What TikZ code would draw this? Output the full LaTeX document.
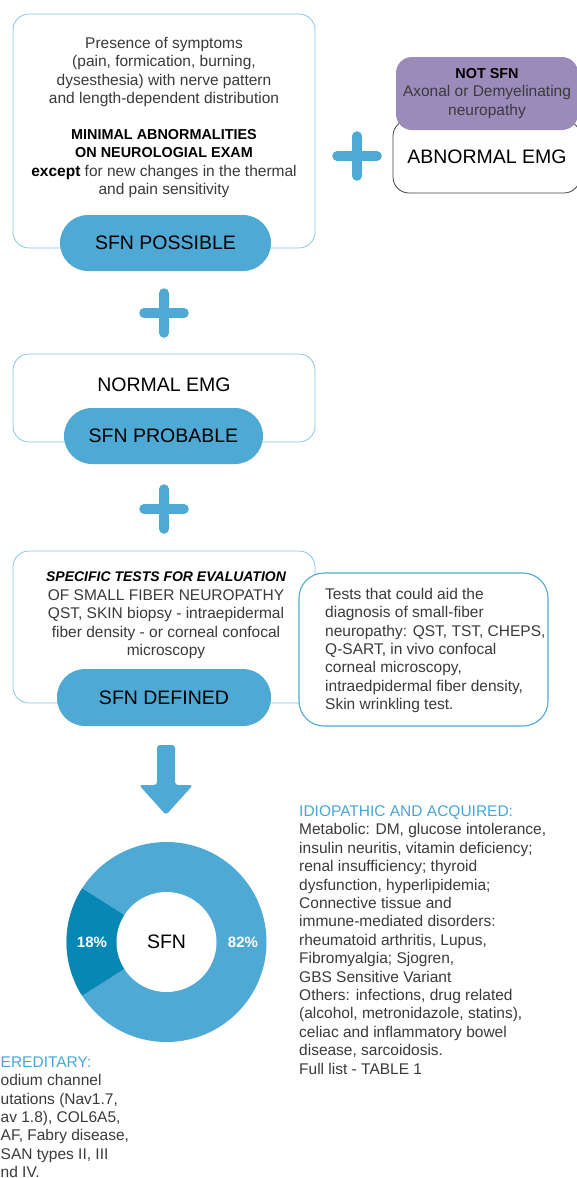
\documentclass[tikz,border=0pt]{standalone}
\usepackage{fontspec}
\setmainfont{Liberation Sans}
\usetikzlibrary{positioning}
\definecolor{sfnblue}{HTML}{4FA9D5}
\definecolor{sfndark}{HTML}{0787B3}
\definecolor{sfnline}{HTML}{8AC5E4}
\definecolor{sfnpurple}{HTML}{9B8BBA}
\definecolor{sfnhead}{HTML}{45A6D6}
\definecolor{sfntext}{HTML}{3A3A3A}
\newcommand{\bodyfont}{\fontsize{15.5}{18.4}\selectfont}
\newcommand{\bigfont}{\fontsize{19.5}{23}\selectfont}
\newcommand{\capsfont}{\fontsize{14.4}{18.4}\selectfont\bfseries}
\begin{document}
\begin{tikzpicture}[x=1pt, y=-1pt,
        box/.style={draw=sfnline, line width=0.8pt, rounded corners=16pt, fill=white, inner sep=0pt},
        pill/.style={fill=sfnblue, rounded corners=28pt, inner sep=0pt, minimum height=56pt, font=\bigfont},
        txt/.style={font=\bodyfont, text=sfntext, inner sep=0pt},
        plus/.style={sfnblue, line width=9.5pt, line cap=round}]
\useasboundingbox (0,0) rectangle (577,1178);
\clip (0,0) rectangle (577,1178);

\node[box, minimum width=302pt, minimum height=234pt] (possbox) at (164,131) {};
\node[txt, anchor=north, align=center] (symptoms) at (164,37) {Presence of symptoms\\(pain, formication, burning,\\dysesthesia) with nerve pattern\\and length-dependent distribution};
\node[txt, anchor=north, align=center] (exam) at (164,129) {{\capsfont\color{black}MINIMAL ABNORMALITIES}\\{\capsfont\color{black}ON NEUROLOGIAL EXAM}\\{\bfseries\color{black}except} for new changes in the thermal\\and pain sensitivity};
\node[pill, minimum width=211pt] (possible) at (165.5,243) {SFN POSSIBLE};

\draw[plus] (164,293) -- (164,333) (144,313) -- (184,313);

\node[box, minimum width=302pt, minimum height=88pt] (normbox) at (164,398) {};
\node[font=\bigfont, inner sep=0pt] (normal) at (164,385) {NORMAL EMG};
\node[pill, minimum width=199pt] (probable) at (163.5,436) {SFN PROBABLE};

\draw[plus] (164,489) -- (164,529) (144,509) -- (184,509);

\node[box, minimum width=302pt, minimum height=152pt] (specbox) at (164,627) {};
\node[txt, anchor=north, align=center] (spectests) at (166,572) {{\fontsize{14}{18.4}\selectfont\bfseries\itshape\color{black}SPECIFIC TESTS FOR EVALUATION}\\OF SMALL FIBER NEUROPATHY\\QST, SKIN biopsy - intraepidermal\\fiber density - or corneal confocal\\microscopy};
\node[pill, minimum width=214pt, minimum height=57pt] (defined) at (164,697.5) {SFN DEFINED};

\node[box, draw=sfnblue, line width=1.1pt, rounded corners=25pt, minimum width=249pt, minimum height=153pt] (testbox) at (423.5,649.5) {};
\node[txt, anchor=west, align=left] (aidtests) at (325,650.5) {Tests that could aid the\\diagnosis of small-fiber\\neuropathy: QST, TST, CHEPS,\\Q-SART, in vivo confocal\\corneal microscopy,\\intraedpidermal fiber density,\\Skin wrinkling test.};

\node[box, draw=black!75, minimum width=187pt, minimum height=73pt] (abnormal) at (486.5,156.5) {};
\node[font=\bigfont, inner sep=0pt] (abnormtxt) at (487,157) {ABNORMAL EMG};
\node[fill=sfnpurple, rounded corners=16pt, minimum width=182pt, minimum height=73pt, inner sep=0pt, txt, align=center] (notsfn) at (487,93.5) {{\capsfont\color{black}NOT SFN}\\Axonal or Demyelinating\\neuropathy};
\draw[plus] (357,136) -- (357,176) (337,156) -- (377,156);

\fill[sfnblue, rounded corners=3pt] (157,745) -- (175,745) -- (175,785) -- (193,785) -- (166,815) -- (139,785) -- (157,785) -- cycle;

\fill[sfnblue] (166.5,942) circle (100);
\fill[sfndark] (166.5,942) ++(147.6:100) arc[start angle=147.6, end angle=212.4, radius=100] -- (166.5,942) -- cycle;
\node[circle, fill=white, minimum size=100pt, inner sep=0pt, font=\bigfont] (sfn) at (166.5,942) {SFN};
\node[font=\fontsize{15}{18}\selectfont\bfseries, text=white, inner sep=0pt] (hered) at (92,942) {18\%};
\node[font=\fontsize{15}{18}\selectfont\bfseries, text=white, inner sep=0pt] (acquired) at (243,942) {82\%};

\node[txt, anchor=north west, align=left] (acqlist) at (299,805.5) {{\color{sfnhead}IDIOPATHIC AND ACQUIRED:}\\Metabolic: DM, glucose intolerance,\\insulin neuritis, vitamin deficiency;\\renal insufficiency; thyroid\\dysfunction, hyperlipidemia;\\Connective tissue and\\immune-mediated disorders:\\rheumatoid arthritis, Lupus,\\Fibromyalgia; Sjogren,\\GBS Sensitive Variant\\Others: infections, drug related\\(alcohol, metronidazole, statins),\\celiac and inflammatory bowel\\disease, sarcoidosis.\\Full list - TABLE 1};
\node[txt, anchor=north west, align=left] (heredlist) at (0.5,1056.5) {{\color{sfnhead}EREDITARY:}\\odium channel\\utations (Nav1.7,\\av 1.8), COL6A5,\\AF, Fabry disease,\\SAN types II, III\\nd IV.};

\end{tikzpicture}
\end{document}
